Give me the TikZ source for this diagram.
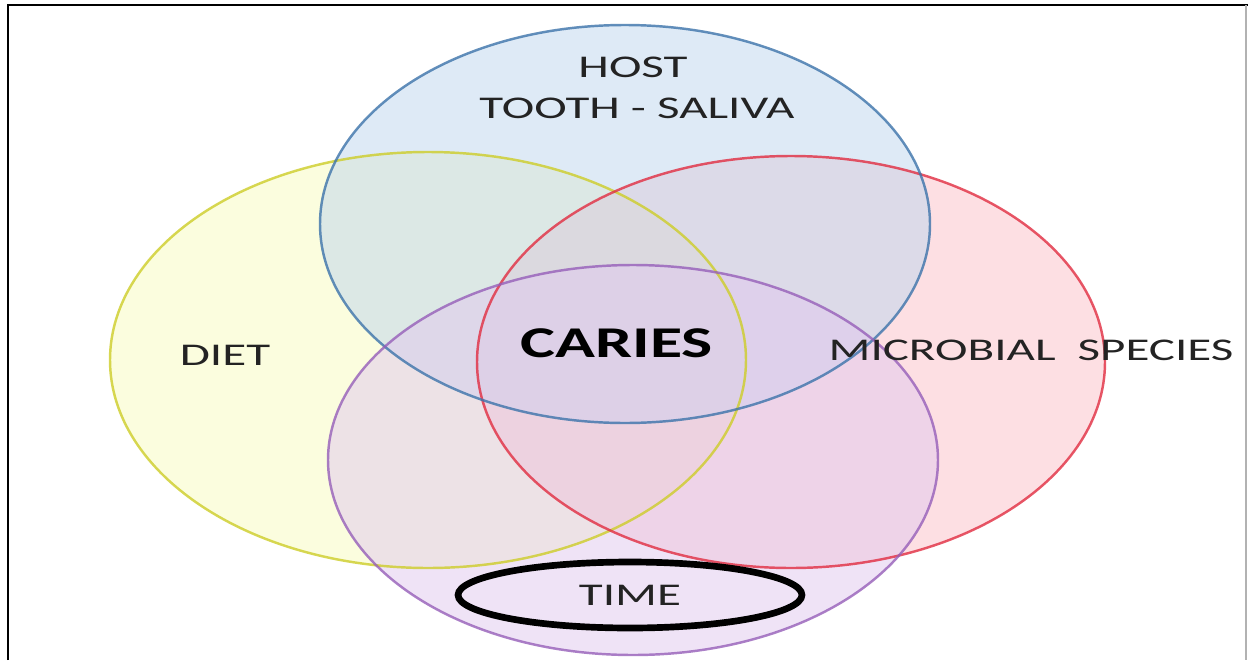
\documentclass[tikz,border=0pt]{standalone}
\usepackage{fontspec}
\setmainfont{Carlito}
\usepackage{tikz}
\usetikzlibrary{shapes.geometric}
\definecolor{hostfill}{RGB}{189,213,237}
\definecolor{hostline}{RGB}{60,115,170}
\definecolor{dietfill}{RGB}{247,251,190}
\definecolor{dietline}{RGB}{205,205,40}
\definecolor{microfill}{RGB}{251,192,200}
\definecolor{microline}{RGB}{225,45,65}
\definecolor{timefill}{RGB}{224,200,238}
\definecolor{timeline}{RGB}{150,95,185}
\definecolor{ink}{RGB}{35,35,35}
\newcommand{\stretchtxt}[1]{\scalebox{1.55}[1]{#1}}

\begin{document}
\begin{tikzpicture}[x=0.02cm, y=-0.02cm,
		factor/.style={ellipse, inner sep=0pt, fill opacity=0.5},
		rim/.style={line width=1.4pt, draw opacity=0.8},
		label/.style={text=ink, font=\fontsize{18}{20}\selectfont, align=center, inner sep=0pt}]
	\useasboundingbox (0,0) rectangle (1248,660);
	
	\node[factor, fill=dietfill, minimum width=12.72cm, minimum height=8.32cm] (diet) at (428,360) {};
	\node[factor, fill=microfill, minimum width=12.56cm, minimum height=8.24cm] (microbe) at (791,362) {};
	\node[factor, fill=hostfill, minimum width=12.2cm, minimum height=7.96cm] (host) at (625,224) {};
	\node[factor, fill=timefill, minimum width=12.2cm, minimum height=7.8cm] (time) at (633,460) {};
	
	% rims on top of all fills
	\draw[rim, dietline] (diet.center) ellipse [x radius=318, y radius=208];
	\draw[rim, microline] (microbe.center) ellipse [x radius=314, y radius=206];
	\draw[rim, hostline] (host.center) ellipse [x radius=305, y radius=199];
	\draw[rim, timeline] (time.center) ellipse [x radius=305, y radius=195];
	
	\node[label] (hostlbl) at (633,67) {\stretchtxt{HOST}};
	\node[label] (salivalbl) at (637,108) {\stretchtxt{TOOTH - SALIVA}};
	\node[label] (dietlbl) at (225,355) {\stretchtxt{DIET}};
	\node[label] (microlbl) at (1031,350) {\stretchtxt{MICROBIAL\ \ SPECIES}};
	\node[label, font=\fontsize{25}{28}\selectfont\bfseries, text=black] (caries) at (617,343) {\scalebox{1.5}[1]{CARIES}};
	
	\node[ellipse, draw=black, line width=3.8pt, minimum width=6.88cm, minimum height=1.32cm, inner sep=0pt,
		text=ink, font=\fontsize{18}{20}\selectfont] (timering) at (630,595) {\stretchtxt{TIME}};
	
	% frame
	\draw[line width=1.6pt] (8,660) -- (8,5) -- (1248,5);
	\draw[gray!60, line width=0.6pt] (1246,5) -- (1246,660);
\end{tikzpicture}
\end{document}
